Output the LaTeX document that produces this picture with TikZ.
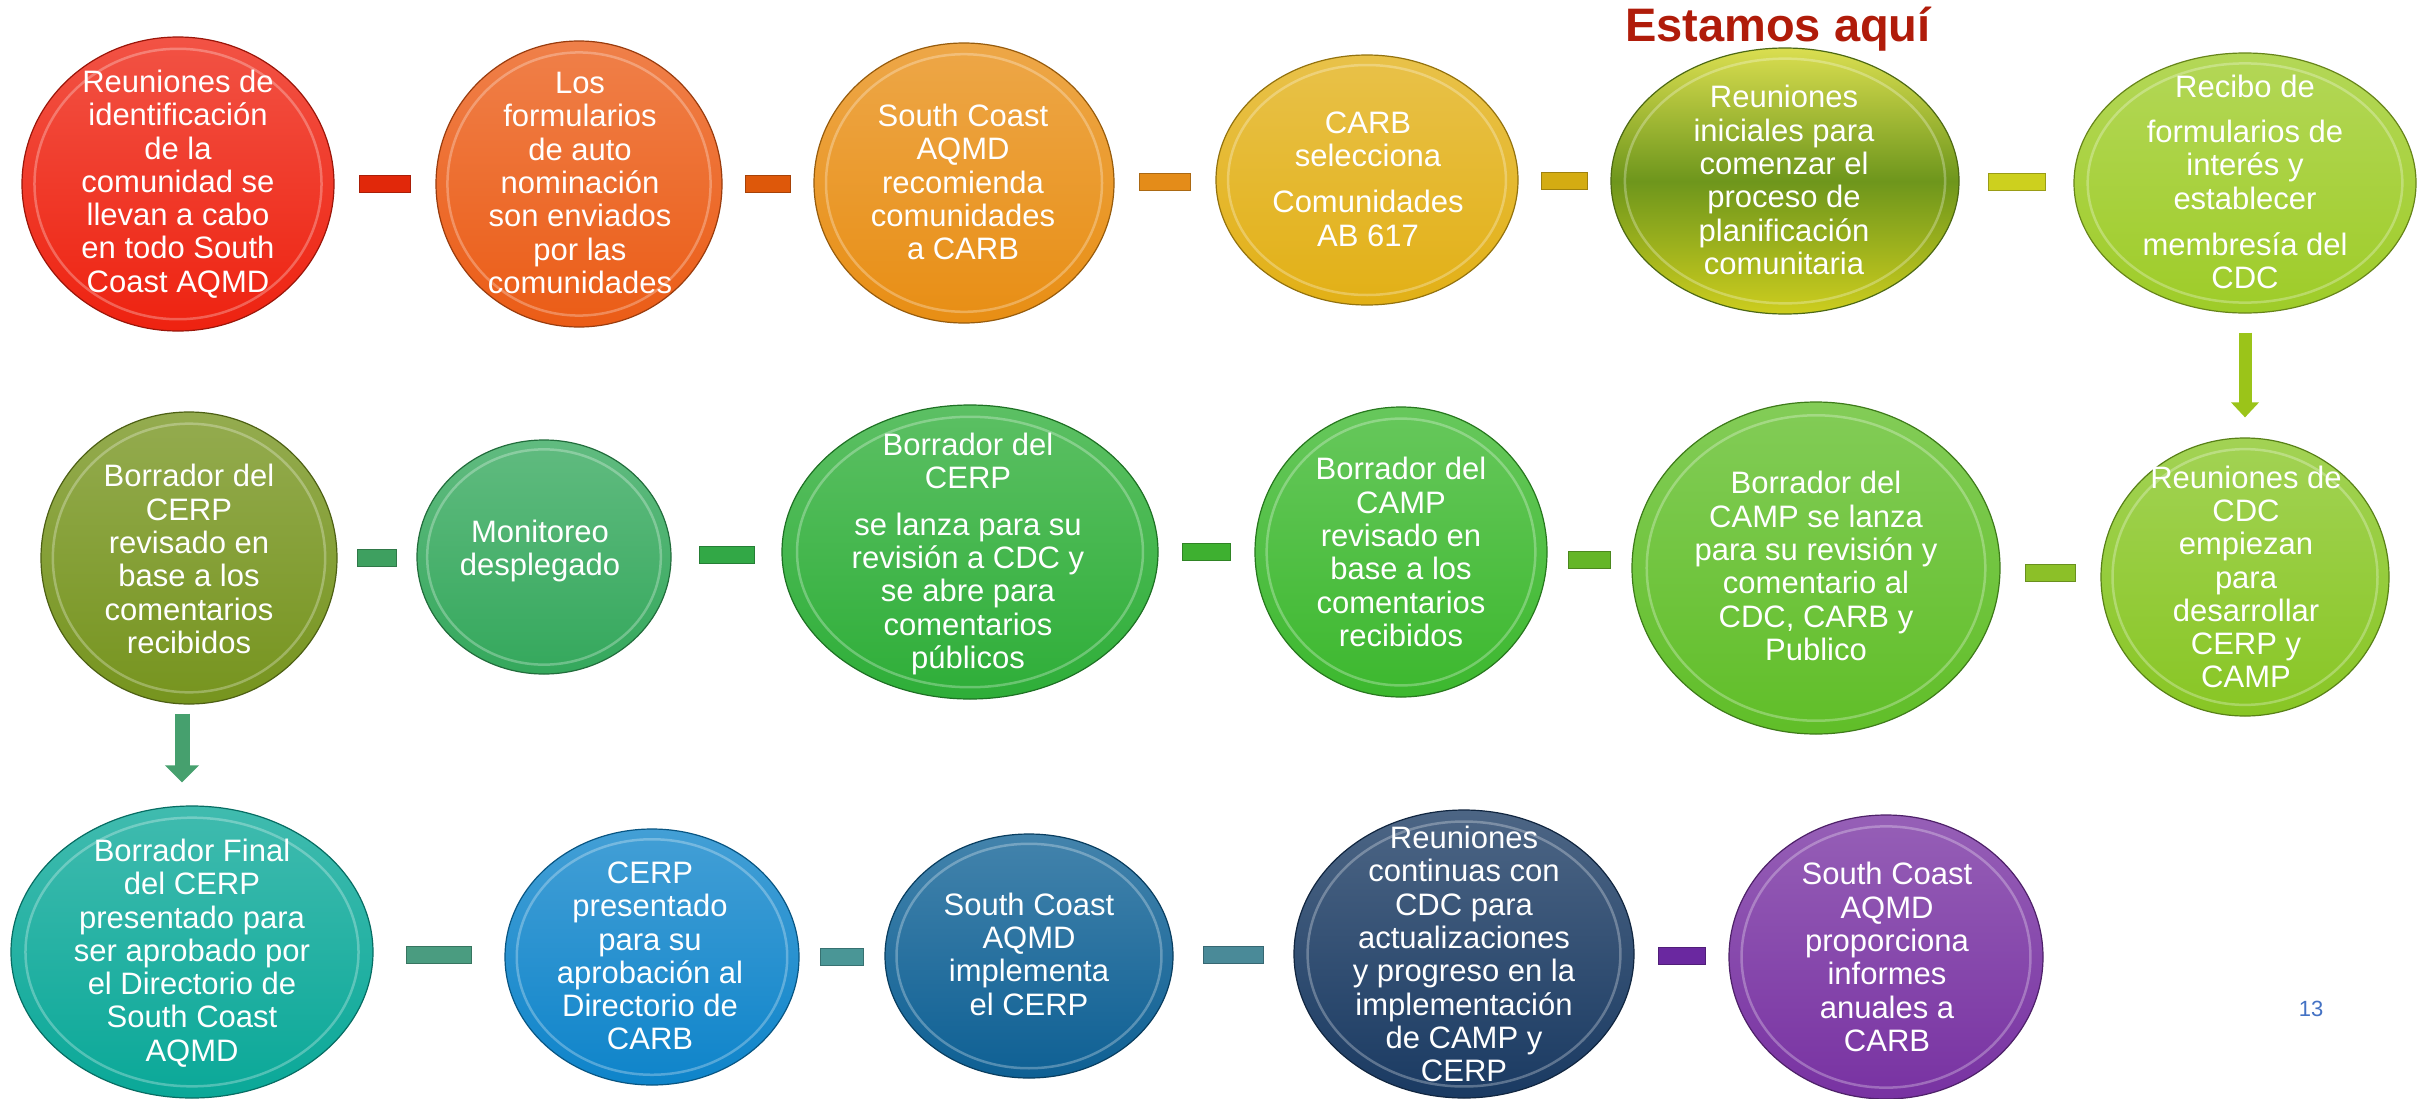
\documentclass[tikz,border=0pt]{standalone}
\usepackage{fontspec}
\setmainfont{Liberation Sans}
\usetikzlibrary{shapes.geometric,arrows.meta,calc}
\definecolor{c1}{RGB}{238,34,16}
\definecolor{c2}{RGB}{235,92,22}
\definecolor{c3}{RGB}{232,142,20}
\definecolor{c4}{RGB}{226,176,22}
\definecolor{c5t}{RGB}{218,222,80}
\definecolor{c5m}{RGB}{110,150,28}
\definecolor{c5b}{RGB}{205,205,30}
\definecolor{c6}{RGB}{158,204,40}
\definecolor{c7}{RGB}{118,148,30}
\definecolor{c8}{RGB}{52,168,92}
\definecolor{c9}{RGB}{46,174,56}
\definecolor{c10}{RGB}{60,184,46}
\definecolor{c11}{RGB}{96,190,40}
\definecolor{c12}{RGB}{136,198,36}
\definecolor{c13}{RGB}{10,168,152}
\definecolor{c14}{RGB}{14,132,202}
\definecolor{c15}{RGB}{14,96,148}
\definecolor{c16}{RGB}{26,58,98}
\definecolor{c17}{RGB}{120,50,162}
\definecolor{k1}{RGB}{225,40,10}
\definecolor{k2}{RGB}{222,88,10}
\definecolor{k3}{RGB}{228,140,25}
\definecolor{k4}{RGB}{212,172,18}
\definecolor{k5}{RGB}{205,208,30}
\definecolor{k6}{RGB}{62,160,96}
\definecolor{k7}{RGB}{50,168,70}
\definecolor{k8}{RGB}{62,176,48}
\definecolor{k9}{RGB}{100,182,40}
\definecolor{k10}{RGB}{140,192,40}
\definecolor{k11}{RGB}{74,156,128}
\definecolor{k12}{RGB}{74,150,150}
\definecolor{k13}{RGB}{74,138,152}
\definecolor{k14}{RGB}{106,40,160}
\definecolor{a1}{RGB}{155,196,25}
\definecolor{a2}{RGB}{70,160,110}
\definecolor{titlered}{RGB}{176,28,10}
\definecolor{pgblue}{RGB}{68,114,196}
\tikzset{
  shade3d/.style={top color=#1!78!white, bottom color=#1, draw=#1!65!black},
  bubble/.style={ellipse, line width=1.2pt, inner sep=0pt},
  rim/.style={white, opacity=.28, line width=2.5pt},
  lbl/.style={text=white, align=center, inner sep=0pt, font=\fontsize{31}{33.3}\selectfont},
  connbox/.style={fill=#1, draw=#1!75!black, line width=.8pt},
  bigarrow/.style={line width=13pt, -{Triangle[length=15pt,width=27pt]}},
  bigarrowb/.style={line width=15pt, -{Triangle[length=17pt,width=33pt]}},
}
% name, x, y, rx, ry, shading style
\newcommand\mkbub[6]{%
  \node[bubble, #6, minimum width={2*#4pt}, minimum height={2*#5pt}] (#1) at (#2,#3) {};
  \draw[rim] (#1.center) ellipse [x radius={0.92*#4pt}, y radius={0.92*#5pt}];
}
\newcommand\mkconn[3]{%
  \path (#1.east) -- coordinate[pos=.25] (#1-#2p) coordinate[pos=.5] (#1-#2m)
        coordinate[pos=.75] (#1-#2q) (#2.west);
  \draw[connbox=#3] ($(#1-#2p |- #1-#2m)+(0,-8.5)$) rectangle ($(#1-#2q |- #1-#2m)+(0,8.5)$);
}
\begin{document}
\begin{tikzpicture}[x=1pt,y=-1pt]
\useasboundingbox (0,0) rectangle (2418,1098);
\fill[white] (0,0) rectangle (2418,1098);

\node[anchor=base, text=titlered, font=\fontsize{47}{50}\selectfont\bfseries, inner sep=0pt] (title) at (1778,41) {Estamos aquí};

% row 1
\mkbub{e1}{178}{184}{156}{147}{shade3d=c1}
\mkbub{e2}{579}{184}{143}{143}{shade3d=c2}
\mkbub{e3}{964}{183}{150}{140}{shade3d=c3}
\mkbub{e4}{1367}{180}{151}{125}{shade3d=c4}
\mkbub{e5}{1785}{181}{174}{133}{top color=c5t, bottom color=c5b, middle color=c5m, draw=c5m!70!black}
\mkbub{e6}{2245}{183}{171}{130}{shade3d=c6}
% row 2
\mkbub{e7}{189}{558}{148}{146}{shade3d=c7}
\mkbub{e8}{544}{557}{127}{117}{shade3d=c8}
\mkbub{e9}{970}{552}{188}{147}{shade3d=c9}
\mkbub{e10}{1401}{552}{146}{145}{shade3d=c10}
\mkbub{e11}{1816}{568}{184}{166}{shade3d=c11}
\mkbub{e12}{2245}{577}{144}{139}{shade3d=c12}
% row 3
\mkbub{e13}{192}{952}{181}{146}{shade3d=c13}
\mkbub{e14}{652}{957}{147}{128}{shade3d=c14}
\mkbub{e15}{1029}{956}{144}{122}{shade3d=c15}
\mkbub{e16}{1464}{954}{170}{144}{shade3d=c16}
\mkbub{e17}{1886}{957}{157}{142}{shade3d=c17}

% texts
\node[lbl] (t1) at (178,184) {Reuniones de\\identificación\\de la\\comunidad se\\llevan a cabo\\en todo South\\Coast AQMD};
\node[lbl] (t2) at (580,183) {Los\\formularios\\de auto\\nominación\\son enviados\\por las\\comunidades};
\node[lbl] (t3) at (963,182) {South Coast\\AQMD\\recomienda\\comunidades\\a CARB};
\node[lbl] (t4) at (1368,179) {CARB\\selecciona\\[13pt]Comunidades\\AB 617};
\node[lbl] (t5) at (1784,180) {Reuniones\\iniciales para\\comenzar el\\proceso de\\planificación\\comunitaria};
\node[lbl] (t6) at (2245,182) {Recibo de\\[12pt]formularios de\\interés y\\establecer\\[13pt]membresía del\\CDC};
\node[lbl] (t7) at (189,559) {Borrador del\\CERP\\revisado en\\base a los\\comentarios\\recibidos};
\node[lbl] (t8) at (540,551) {Monitoreo\\desplegado};
\node[lbl] (t9) at (968,554) {Borrador del\\CERP\\[13pt]se lanza para su\\revisión a CDC y\\se abre para\\comentarios\\públicos};
\node[lbl] (t10) at (1401,552) {Borrador del\\CAMP\\revisado en\\base a los\\comentarios\\recibidos};
\node[lbl] (t11) at (1816,566) {Borrador del\\CAMP se lanza\\para su revisión y\\comentario al\\CDC, CARB y\\Publico};
\node[lbl] (t12) at (2246,577) {Reuniones de\\CDC\\empiezan\\para\\desarrollar\\CERP y\\CAMP};
\node[lbl] (t13) at (192,953) {Borrador Final\\del CERP\\presentado para\\ser aprobado por\\el Directorio de\\South Coast\\AQMD};
\node[lbl] (t14) at (650,956) {CERP\\presentado\\para su\\aprobación al\\Directorio de\\CARB};
\node[lbl] (t15) at (1029,954) {South Coast\\AQMD\\implementa\\el CERP};
\node[lbl] (t16) at (1464,954) {Reuniones\\continuas con\\CDC para\\actualizaciones\\y progreso en la\\implementación\\de CAMP y\\CERP};
\node[lbl] (t17) at (1887,957) {South Coast\\AQMD\\proporciona\\informes\\anuales a\\CARB};

% connectors
\mkconn{e1}{e2}{k1}
\mkconn{e2}{e3}{k2}
\mkconn{e3}{e4}{k3}
\mkconn{e4}{e5}{k4}
\mkconn{e5}{e6}{k5}
\mkconn{e7}{e8}{k6}
\mkconn{e8}{e9}{k7}
\mkconn{e9}{e10}{k8}
\mkconn{e10}{e11}{k9}
\mkconn{e11}{e12}{k10}
\mkconn{e13}{e14}{k11}
\mkconn{e14}{e15}{k12}
\mkconn{e15}{e16}{k13}
\mkconn{e16}{e17}{k14}

% down arrows
\draw[bigarrow, a1] ($(e6.south)+(0,19)$) -- ($(e12.north)+(0,-20)$);
\draw[bigarrowb, a2] ($(e7.south)+(-7,9)$) -- ($(e7.south |- e13.north)+(-7,-23)$);

\node[text=pgblue, font=\fontsize{22}{24}\selectfont, inner sep=0pt, anchor=base] (pg) at (2311,1016) {13};
\end{tikzpicture}
\end{document}
